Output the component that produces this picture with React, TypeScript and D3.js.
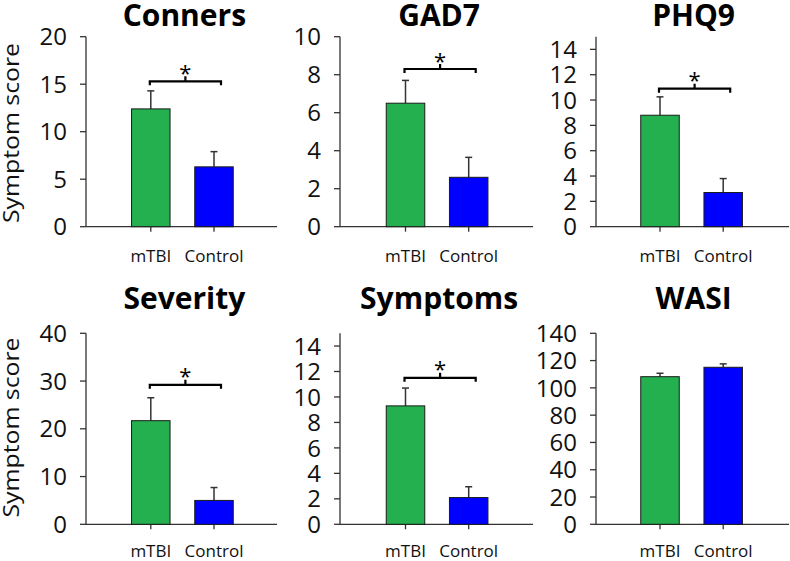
import React from "react";
import * as d3 from "d3";

const panelTitles = ["Conners", "GAD7", "PHQ9", "Severity", "Symptoms", "WASI"];
const categories = ["mTBI", "Control"];
const mtbiMeans = [12.4, 6.5, 8.8, 21.7, 9.3, 108.2];
const mtbiErrors = [1.9, 1.2, 1.45, 4.8, 1.4, 2.5];
const controlMeans = [6.3, 2.6, 2.7, 5.0, 2.1, 115.1];
const controlErrors = [1.6, 1.05, 1.1, 2.7, 0.85, 2.5];
const yMaxes = [20, 10, 15, 40, 15, 140];
const tickSteps = [5, 2, 2, 10, 2, 20];
const tickMaxes = [20, 10, 14, 40, 14, 140];
const significant = [true, true, true, true, true, false];
const bracketLevels = [15.3, 8.3, 10.9, 29.2, 11.5, 0];
const yAxisLabel = "Symptom score";

const COLORS = ["#25b04f", "#0000ff"];
const FONT = "'Open Sans', 'DejaVu Sans', sans-serif";

const colAxisX = [86, 340, 596];
const colAxisEnd = [277, 533, 789];
const colFirst = [150.8, 405.5, 660];
const rowBottom = [226.7, 524.3];
const rowTop = [36.7, 333.3];
const BAR_W = 38.5;
const STEP = 63.2;

function Panel({ i }: { i: number }) {
  const row = Math.floor(i / 3);
  const col = i % 3;
  const axisX = colAxisX[col];
  const y = d3.scaleLinear().domain([0, yMaxes[i]]).range([rowBottom[row], rowTop[row]]);
  const x = d3
    .scalePoint<string>()
    .domain(categories)
    .range([colFirst[col], colFirst[col] + STEP]);
  const ticks = d3.range(0, tickMaxes[i] + 0.001, tickSteps[i]);
  const means = [mtbiMeans[i], controlMeans[i]];
  const errs = [mtbiErrors[i], controlErrors[i]];
  const y0 = y(0);
  const titleX = (x("mTBI")! + x("Control")!) / 2 + 2;
  const titleY = row === 0 ? 26 : 309;
  const labelY = row === 0 ? 262 : 557;
  const bx1 = x("mTBI")! - 1;
  const bx2 = x("Control")! + 7;
  const bY = y(bracketLevels[i]);
  const bMid = (bx1 + bx2) / 2;
  return (
    <g>
      <text x={titleX} y={titleY} textAnchor="middle" fontFamily={FONT} fontWeight="bold" fontSize={30} fill="#000">
        {panelTitles[i]}
      </text>
      {/* y axis */}
      <line x1={axisX} x2={axisX} y1={rowTop[row]} y2={y0} stroke="#333" strokeWidth={1.3} />
      {ticks.map((t) => (
        <g key={t}>
          <line x1={axisX - 6} x2={axisX} y1={y(t)} y2={y(t)} stroke="#333" strokeWidth={1.3} />
          <text x={axisX - 19} y={y(t)} dy="0.36em" textAnchor="end" fontFamily={FONT} fontSize={24} fill="#111">
            {t}
          </text>
        </g>
      ))}
      {/* x axis */}
      <line x1={axisX} x2={colAxisEnd[col]} y1={y0} y2={y0} stroke="#333" strokeWidth={1.3} />
      {categories.map((c, k) => {
        const cx = x(c)!;
        const top = y(means[k]);
        const et = y(means[k] + errs[k]);
        return (
          <g key={c}>
            <line x1={cx} x2={cx} y1={y0} y2={y0 + 5} stroke="#333" strokeWidth={1.3} />
            <line x1={cx} x2={cx} y1={top} y2={et} stroke="#333" strokeWidth={1.5} />
            <line x1={cx - 3.5} x2={cx + 3.5} y1={et} y2={et} stroke="#333" strokeWidth={1.5} />
            <rect x={cx - BAR_W / 2} y={top} width={BAR_W} height={y0 - top} fill={COLORS[k]} stroke="#1a1a1a" strokeWidth={1} />
            <text x={cx} y={labelY} textAnchor="middle" fontFamily={FONT} fontSize={17} fill="#111">
              {c}
            </text>
          </g>
        );
      })}
      {significant[i] && (
        <g>
          <path
            d={`M${bx1},${bY + 4}V${bY}H${bx2}V${bY + 4}M${bMid},${bY}V${bY - 5}`}
            fill="none"
            stroke="#000"
            strokeWidth={2.2}
          />
          <text x={bMid} y={bY - 0.5} textAnchor="middle" fontFamily={FONT} fontSize={22} fill="#000">
            *
          </text>
        </g>
      )}
    </g>
  );
}

export default function App() {
  return (
    <svg width={790} height={561} style={{ position: "absolute", left: 0, top: 0, background: "#fff" }}>
      <rect width={790} height={561} fill="#fff" />
      {[133, 427.5].map((cy, r) => (
        <text
          key={r}
          transform={`translate(19,${cy}) rotate(-90)`}
          textAnchor="middle"
          fontFamily={FONT}
          fontSize={21}
          textLength={180}
          lengthAdjust="spacingAndGlyphs"
          fill="#111"
        >
          {yAxisLabel}
        </text>
      ))}
      {panelTitles.map((_, i) => (
        <Panel key={i} i={i} />
      ))}
    </svg>
  );
}
